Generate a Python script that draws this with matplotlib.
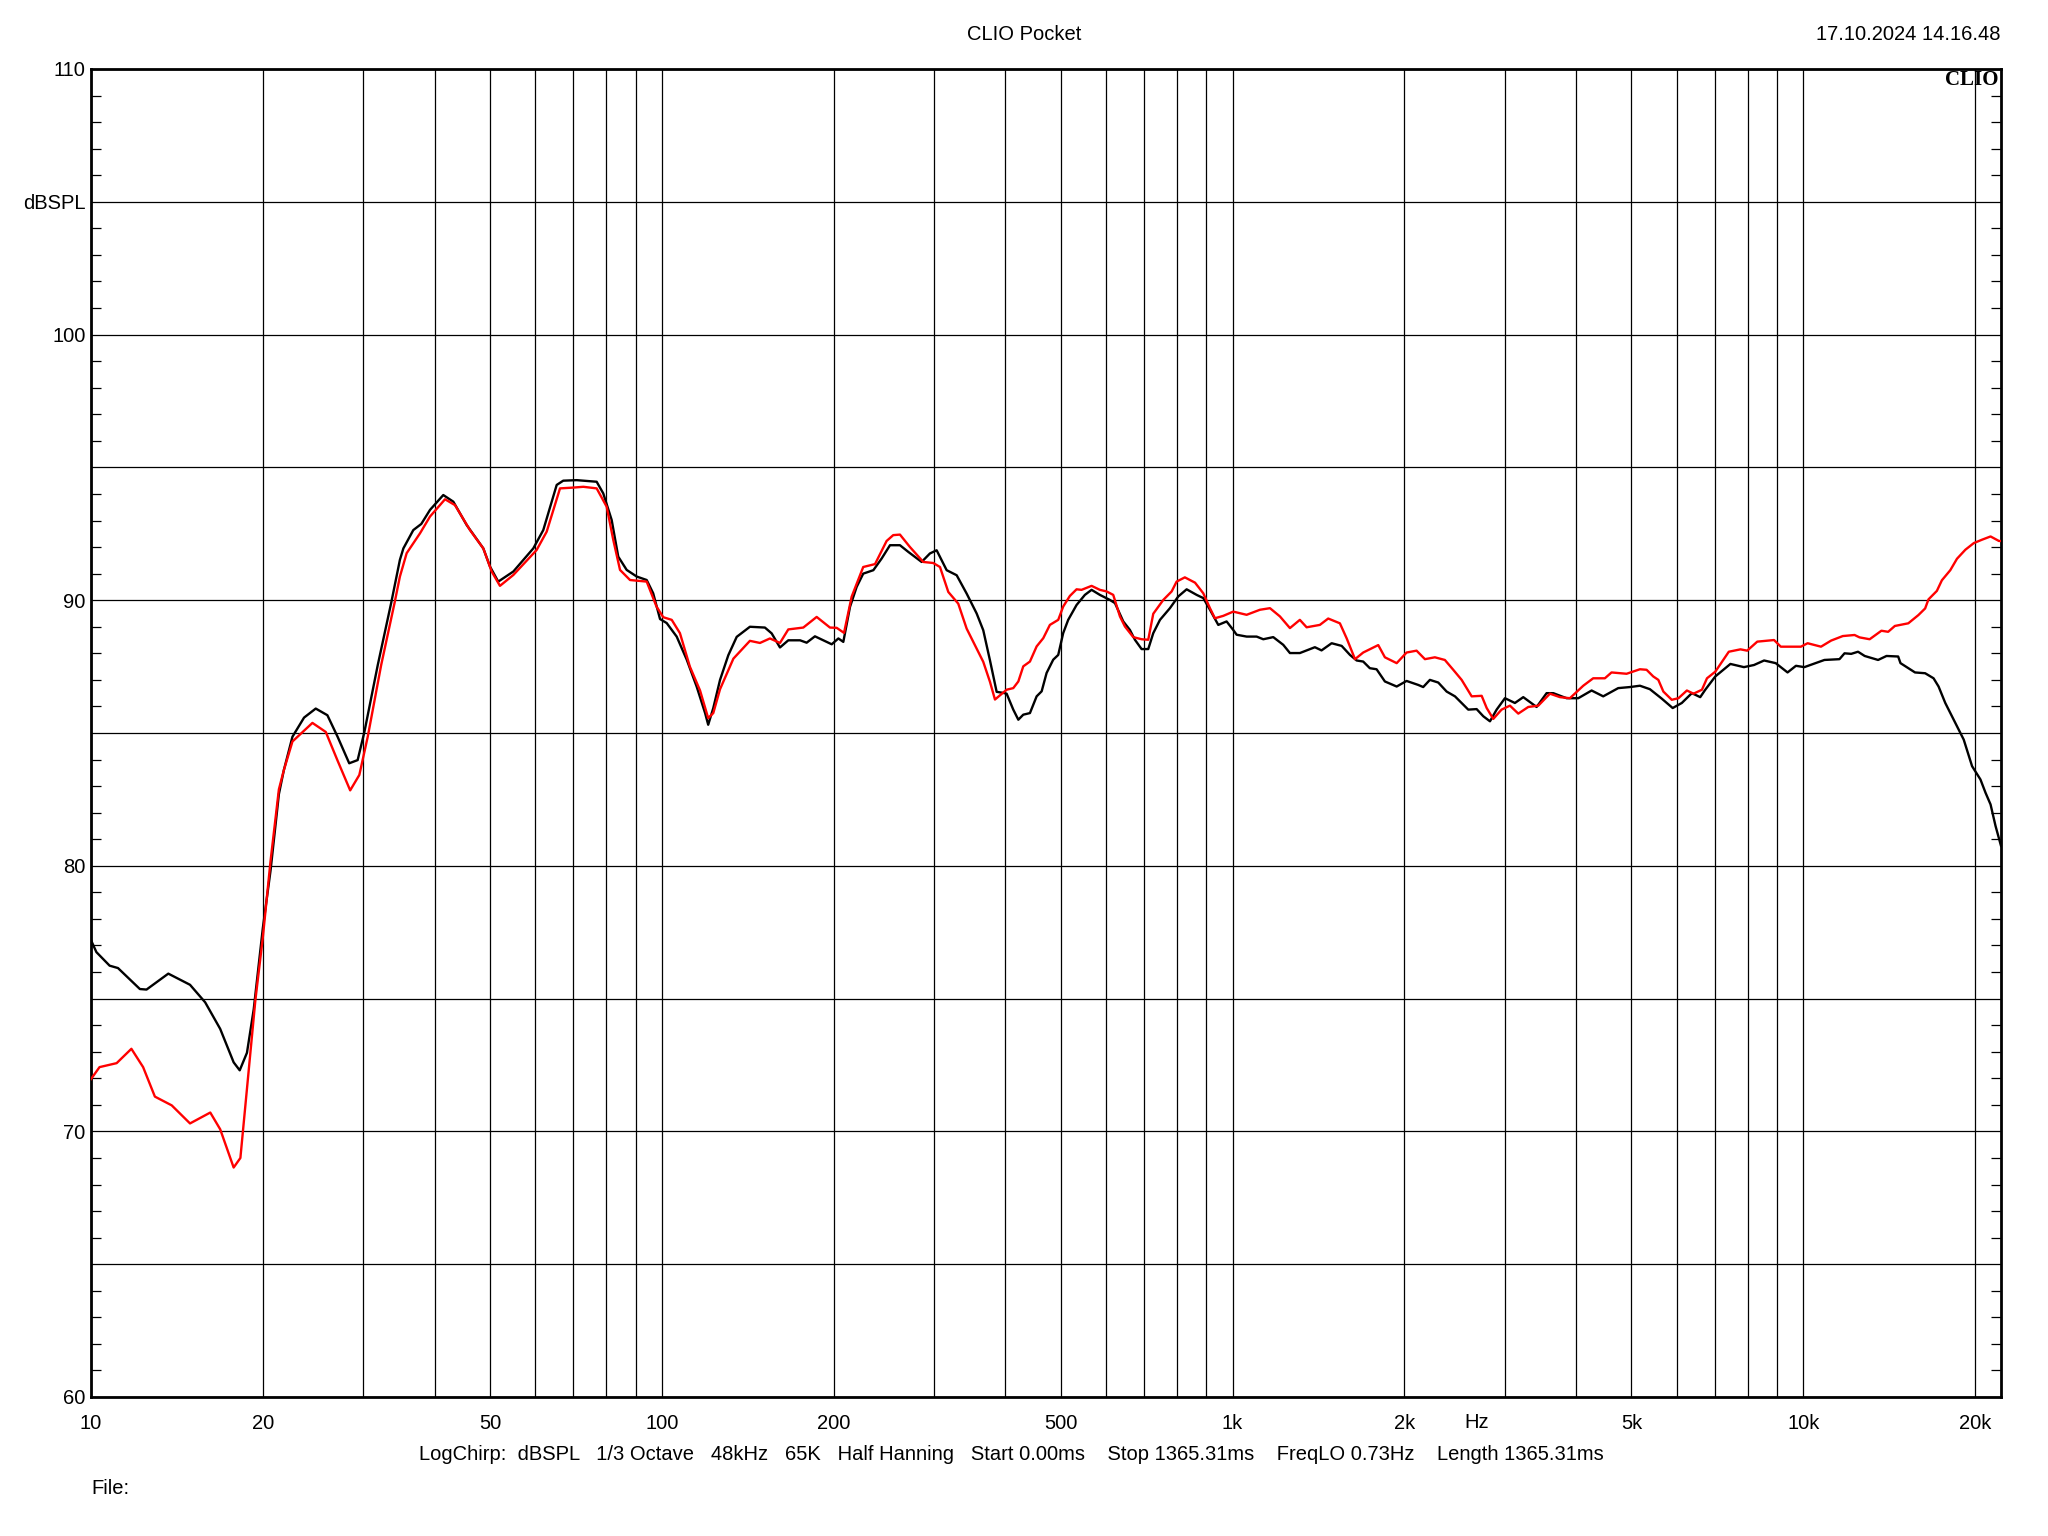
import matplotlib
matplotlib.use("Agg")
import matplotlib.pyplot as plt
from matplotlib.ticker import FixedLocator, NullFormatter

plt.rcParams['font.family'] = ['Liberation Sans', 'DejaVu Sans']

# black trace (frequency Hz, dBSPL)
black_freq = [10.0, 10.22, 10.78, 11.15, 12.18, 12.51, 13.66, 14.91, 15.85, 16.84,
              17.78, 18.22, 18.76, 19.28, 20.0, 20.63, 21.34, 21.77, 22.54, 23.62,
              24.76, 25.95, 27.04, 28.34, 29.32, 30.13, 31.8, 33.57, 34.77, 35.26,
              36.7, 37.9, 39.26, 41.42, 43.13, 45.52, 48.68, 50.0, 51.7, 54.95,
              59.55, 62.0, 65.45, 67.2, 70.95, 76.9, 78.98, 81.7, 83.9, 86.8,
              90.4, 94.1, 96.6, 99.3, 102, 106.2, 110.6, 115.1, 119.1, 120.6,
              123.1, 126.5, 130.8, 135.3, 142.7, 151.6, 155.8, 161.1, 166.6, 174.7,
              179.4, 185.5, 191.8, 198.5, 203.9, 208.0, 213.7, 219.5, 225.4, 234.8,
              242.8, 251.1, 261.4, 270.3, 285.3, 295.0, 303.1, 315.6, 328.6, 342.1,
              356.2, 365.8, 375.8, 386.1, 396.6, 402.0, 412.9, 421.4, 429.9, 441.6,
              453.7, 463.0, 472.3, 485.1, 495.0, 505.0, 515.3, 533.0, 551.2, 566.3,
              585.6, 609.7, 622.3, 643.5, 661.0, 674.5, 692.9, 711.7, 726.3, 746.2,
              776.8, 803.3, 831.0, 865.2, 888.7, 912.9, 944.1, 976.3, 1002.8, 1016.6,
              1058.5, 1102.1, 1132, 1178.5, 1227, 1260.5, 1312, 1394, 1432, 1491.5,
              1553, 1606, 1650, 1694, 1740, 1788, 1849, 1939, 2018, 2115,
              2158, 2217, 2293, 2372, 2453, 2520, 2588, 2677, 2750, 2825,
              2902, 3001, 3124, 3231, 3410, 3550, 3647, 3848, 4034, 4257,
              4461, 4739, 4969, 5173, 5385, 5645, 5904, 6125, 6378, 6598,
              6734, 7012, 7452, 7869, 8196, 8537, 8946, 9384, 9707, 10042,
              10889, 11571, 11808, 12132, 12470, 12810, 13521, 13988, 14662, 14800,
              15693, 16348, 16912, 17258, 17731, 18341, 19101, 19755, 20434, 20857,
              21284, 21716, 22200]
black_db = [77.2, 76.75, 76.24, 76.15, 75.36, 75.34, 75.94, 75.52, 74.86, 73.86,
            72.6, 72.3, 72.96, 74.6, 77.65, 79.81, 82.7, 83.6, 84.86, 85.58,
            85.92, 85.67, 84.86, 83.86, 83.98, 85.04, 87.56, 89.9, 91.52, 91.95,
            92.64, 92.87, 93.4, 93.96, 93.71, 92.83, 91.95, 91.27, 90.7, 91.08,
            91.95, 92.64, 94.34, 94.5, 94.52, 94.46, 94.02, 93.02, 91.64, 91.14,
            90.89, 90.76, 90.26, 89.29, 89.14, 88.63, 87.76, 86.75, 85.75, 85.31,
            85.94, 87.0, 87.93, 88.62, 89.0, 88.97, 88.75, 88.22, 88.49, 88.49,
            88.4, 88.64, 88.49, 88.34, 88.56, 88.43, 89.75, 90.5, 91.0, 91.13,
            91.57, 92.07, 92.07, 91.82, 91.44, 91.76, 91.88, 91.13, 90.94, 90.25,
            89.5, 88.87, 87.74, 86.55, 86.51, 86.48, 85.88, 85.5, 85.69, 85.75,
            86.38, 86.57, 87.26, 87.76, 87.94, 88.76, 89.26, 89.82, 90.2, 90.39,
            90.2, 90.01, 89.89, 89.2, 88.88, 88.51, 88.16, 88.16, 88.76, 89.26,
            89.7, 90.14, 90.41, 90.2, 90.08, 89.64, 89.07, 89.2, 88.88, 88.7,
            88.63, 88.63, 88.53, 88.61, 88.32, 88.01, 88.01, 88.23, 88.11, 88.38,
            88.28, 87.94, 87.73, 87.69, 87.44, 87.4, 86.94, 86.75, 86.96, 86.81,
            86.73, 87.0, 86.9, 86.56, 86.38, 86.13, 85.88, 85.9, 85.63, 85.44,
            85.88, 86.31, 86.13, 86.35, 85.98, 86.5, 86.5, 86.31, 86.31, 86.6,
            86.38, 86.69, 86.73, 86.78, 86.65, 86.3, 85.94, 86.13, 86.5, 86.35,
            86.63, 87.13, 87.6, 87.48, 87.56, 87.73, 87.63, 87.28, 87.53, 87.48,
            87.75, 87.78, 88.0, 87.98, 88.06, 87.9, 87.75, 87.9, 87.88, 87.63,
            87.28, 87.25, 87.06, 86.75, 86.13, 85.5, 84.75, 83.75, 83.25, 82.75,
            82.31, 81.5, 80.75]

# red trace (frequency Hz, dBSPL)
red_freq = [10.0, 10.35, 11.09, 11.77, 12.34, 12.94, 13.85, 14.91, 16.18, 16.84,
            17.78, 18.27, 18.88, 19.41, 20.0, 20.63, 21.34, 21.77, 22.54, 24.43,
            25.78, 27.04, 28.45, 29.52, 30.54, 32.24, 34.03, 34.77, 35.73, 37.71,
            39.26, 41.71, 43.42, 46.13, 48.68, 50.35, 52.06, 54.95, 60.36, 62.86,
            66.33, 69.98, 72.87, 76.9, 80.07, 82.23, 84.5, 87.98, 94.1, 97.9,
            100.6, 104.1, 107.6, 112.0, 116.7, 120.6, 123.1, 126.5, 133.5, 142.7,
            148.6, 154.7, 161.1, 166.6, 177.0, 186.8, 197.1, 202.5, 208.6, 215.1,
            225.4, 236.4, 247.7, 254.4, 261.4, 272.2, 287.2, 299.0, 307.2, 317.7,
            330.7, 342.1, 351.4, 365.8, 375.8, 383.5, 391.3, 402.0, 412.9, 421.4,
            429.9, 441.6, 453.7, 466.0, 478.6, 495.0, 505.0, 518.8, 533.0, 543.8,
            566.3, 585.6, 601.6, 618, 634.9, 647.8, 670.0, 692.9, 711.7, 726.3,
            756.2, 782.2, 798.0, 825.0, 859.6, 888.7, 912.9, 931.4, 963.2, 1002.8,
            1058.5, 1116.9, 1163, 1210.6, 1260.5, 1312, 1348.3, 1422.3, 1471, 1542,
            1585, 1639, 1694, 1800, 1849, 1939, 2018, 2101, 2173, 2262,
            2355, 2436, 2520, 2624, 2732, 2788, 2863, 2960, 3062, 3167,
            3297, 3433, 3598, 3747, 3900, 4116, 4284, 4491, 4613, 4902,
            5173, 5314, 5458, 5572, 5686, 5882, 6043, 6252, 6423, 6644,
            6780, 7012, 7404, 7762, 7974, 8305, 8887, 9131, 9904, 10174,
            10740, 11188, 11726, 12296, 12547, 13069, 13703, 14082, 14467, 15274,
            15909, 16348, 16568, 17139, 17490, 18093, 18587, 19227, 19892, 20575,
            21284, 22016, 22200]
red_db = [71.97, 72.42, 72.57, 73.11, 72.42, 71.31, 70.98, 70.3, 70.71, 70.08,
          68.64, 69.0, 72.24, 74.95, 77.3, 80.17, 82.88, 83.6, 84.68, 85.38,
          85.04, 83.96, 82.84, 83.42, 84.86, 87.56, 89.9, 90.89, 91.77, 92.52,
          93.15, 93.8, 93.58, 92.64, 91.95, 91.08, 90.54, 90.95, 91.89, 92.58,
          94.21, 94.24, 94.27, 94.21, 93.52, 92.27, 91.14, 90.76, 90.7, 89.76,
          89.36, 89.26, 88.76, 87.5, 86.6, 85.56, 85.75, 86.65, 87.8, 88.47,
          88.39, 88.56, 88.39, 88.9, 88.97, 89.37, 88.97, 88.96, 88.77, 90.13,
          91.25, 91.36, 92.23, 92.45, 92.47, 92.0, 91.44, 91.4, 91.25, 90.31,
          89.87, 88.93, 88.43, 87.68, 86.93, 86.26, 86.42, 86.63, 86.69, 86.94,
          87.51, 87.69, 88.26, 88.57, 89.07, 89.26, 89.76, 90.16, 90.41, 90.39,
          90.54, 90.39, 90.33, 90.2, 89.39, 89.01, 88.61, 88.53, 88.51, 89.49,
          90.01, 90.33, 90.7, 90.86, 90.66, 90.26, 89.7, 89.32, 89.41, 89.57,
          89.45, 89.64, 89.7, 89.39, 88.95, 89.26, 88.98, 89.07, 89.31, 89.13,
          88.56, 87.78, 88.03, 88.31, 87.85, 87.63, 88.03, 88.1, 87.78, 87.85,
          87.75, 87.38, 87.0, 86.38, 86.4, 85.94, 85.53, 85.88, 86.03, 85.73,
          85.98, 86.03, 86.48, 86.35, 86.31, 86.78, 87.06, 87.06, 87.28, 87.23,
          87.4, 87.38, 87.13, 87.0, 86.56, 86.25, 86.31, 86.6, 86.48, 86.63,
          87.06, 87.31, 88.06, 88.15, 88.1, 88.44, 88.5, 88.25, 88.25, 88.38,
          88.25, 88.48, 88.65, 88.69, 88.6, 88.53, 88.85, 88.81, 89.03, 89.13,
          89.44, 89.69, 90.03, 90.35, 90.75, 91.13, 91.56, 91.9, 92.15, 92.28,
          92.4, 92.23, 92.23]

# axis ticks / labels
x_label_pos = [10, 20, 50, 100, 200, 500, 1000, 2000, 5000, 10000, 20000]
x_labels = ['10', '20', '50', '100', '200', '500', '1k', '2k', '5k', '10k', '20k']
x_grid_pos = [30, 40, 60, 70, 80, 90, 300, 400, 600, 700, 800, 900,
              3000, 4000, 6000, 7000, 8000, 9000]
y_major = [60, 65, 70, 75, 80, 85, 90, 95, 100, 105, 110]
y_labels = ['60', '', '70', '', '80', '', '90', '', '100', 'dBSPL', '110']
y_minor = [v for v in range(60, 111) if v % 5 != 0]

info_text = ("LogChirp:  dBSPL   1/3 Octave   48kHz   65K   Half Hanning   "
             "Start 0.00ms    Stop 1365.31ms    FreqLO 0.73Hz    Length 1365.31ms")

FS = 14.5

fig = plt.figure(figsize=(20.48, 15.36), dpi=100)
ax = fig.add_axes([91/2048, 1 - 1397/1536, 1910/2048, 1328/1536])

ax.plot(black_freq, black_db, color='black', lw=1.7, zorder=3)
ax.plot(red_freq, red_db, color='#ff0000', lw=1.7, zorder=4)

ax.set_xscale('log')
ax.set_xlim(10, 22200)
ax.set_ylim(60, 110)

ax.xaxis.set_major_locator(FixedLocator(x_label_pos))
ax.xaxis.set_minor_locator(FixedLocator(x_grid_pos))
ax.xaxis.set_minor_formatter(NullFormatter())
ax.set_xticklabels(x_labels)
ax.set_yticks(y_major)
ax.set_yticklabels(y_labels)
ax.yaxis.set_minor_locator(FixedLocator(y_minor))

ax.tick_params(axis='x', which='both', length=0, pad=12, labelsize=FS)
ax.tick_params(axis='y', which='major', length=0, pad=4, labelsize=FS)
ax.tick_params(axis='y', which='minor', direction='in', length=7.5, width=0.9,
               left=True, right=True)

ax.grid(True, which='major', color='black', lw=0.9)
ax.grid(True, which='minor', axis='x', color='black', lw=0.9)
ax.set_axisbelow(True)
for sp in ax.spines.values():
    sp.set_linewidth(2.0)

ax.text(2680, -0.0118, 'Hz', transform=ax.get_xaxis_transform(),
        ha='center', va='top', fontsize=FS)
ax.text(0.9985, 0.999, 'CLIO', transform=ax.transAxes, ha='right', va='top',
        fontsize=15, fontweight='bold', family='Liberation Serif')

fig.text(0.5, 0.9775, 'CLIO Pocket', ha='center', va='center', fontsize=FS)
fig.text(2001/2048, 0.9775, '17.10.2024 14.16.48', ha='right', va='center', fontsize=FS)
fig.text(1011/2048, 1 - 1455/1536, info_text, ha='center', va='center', fontsize=FS)
fig.text(91/2048, 1 - 1489/1536, 'File:', ha='left', va='center', fontsize=FS)

fig.savefig('out.png', dpi=100)
